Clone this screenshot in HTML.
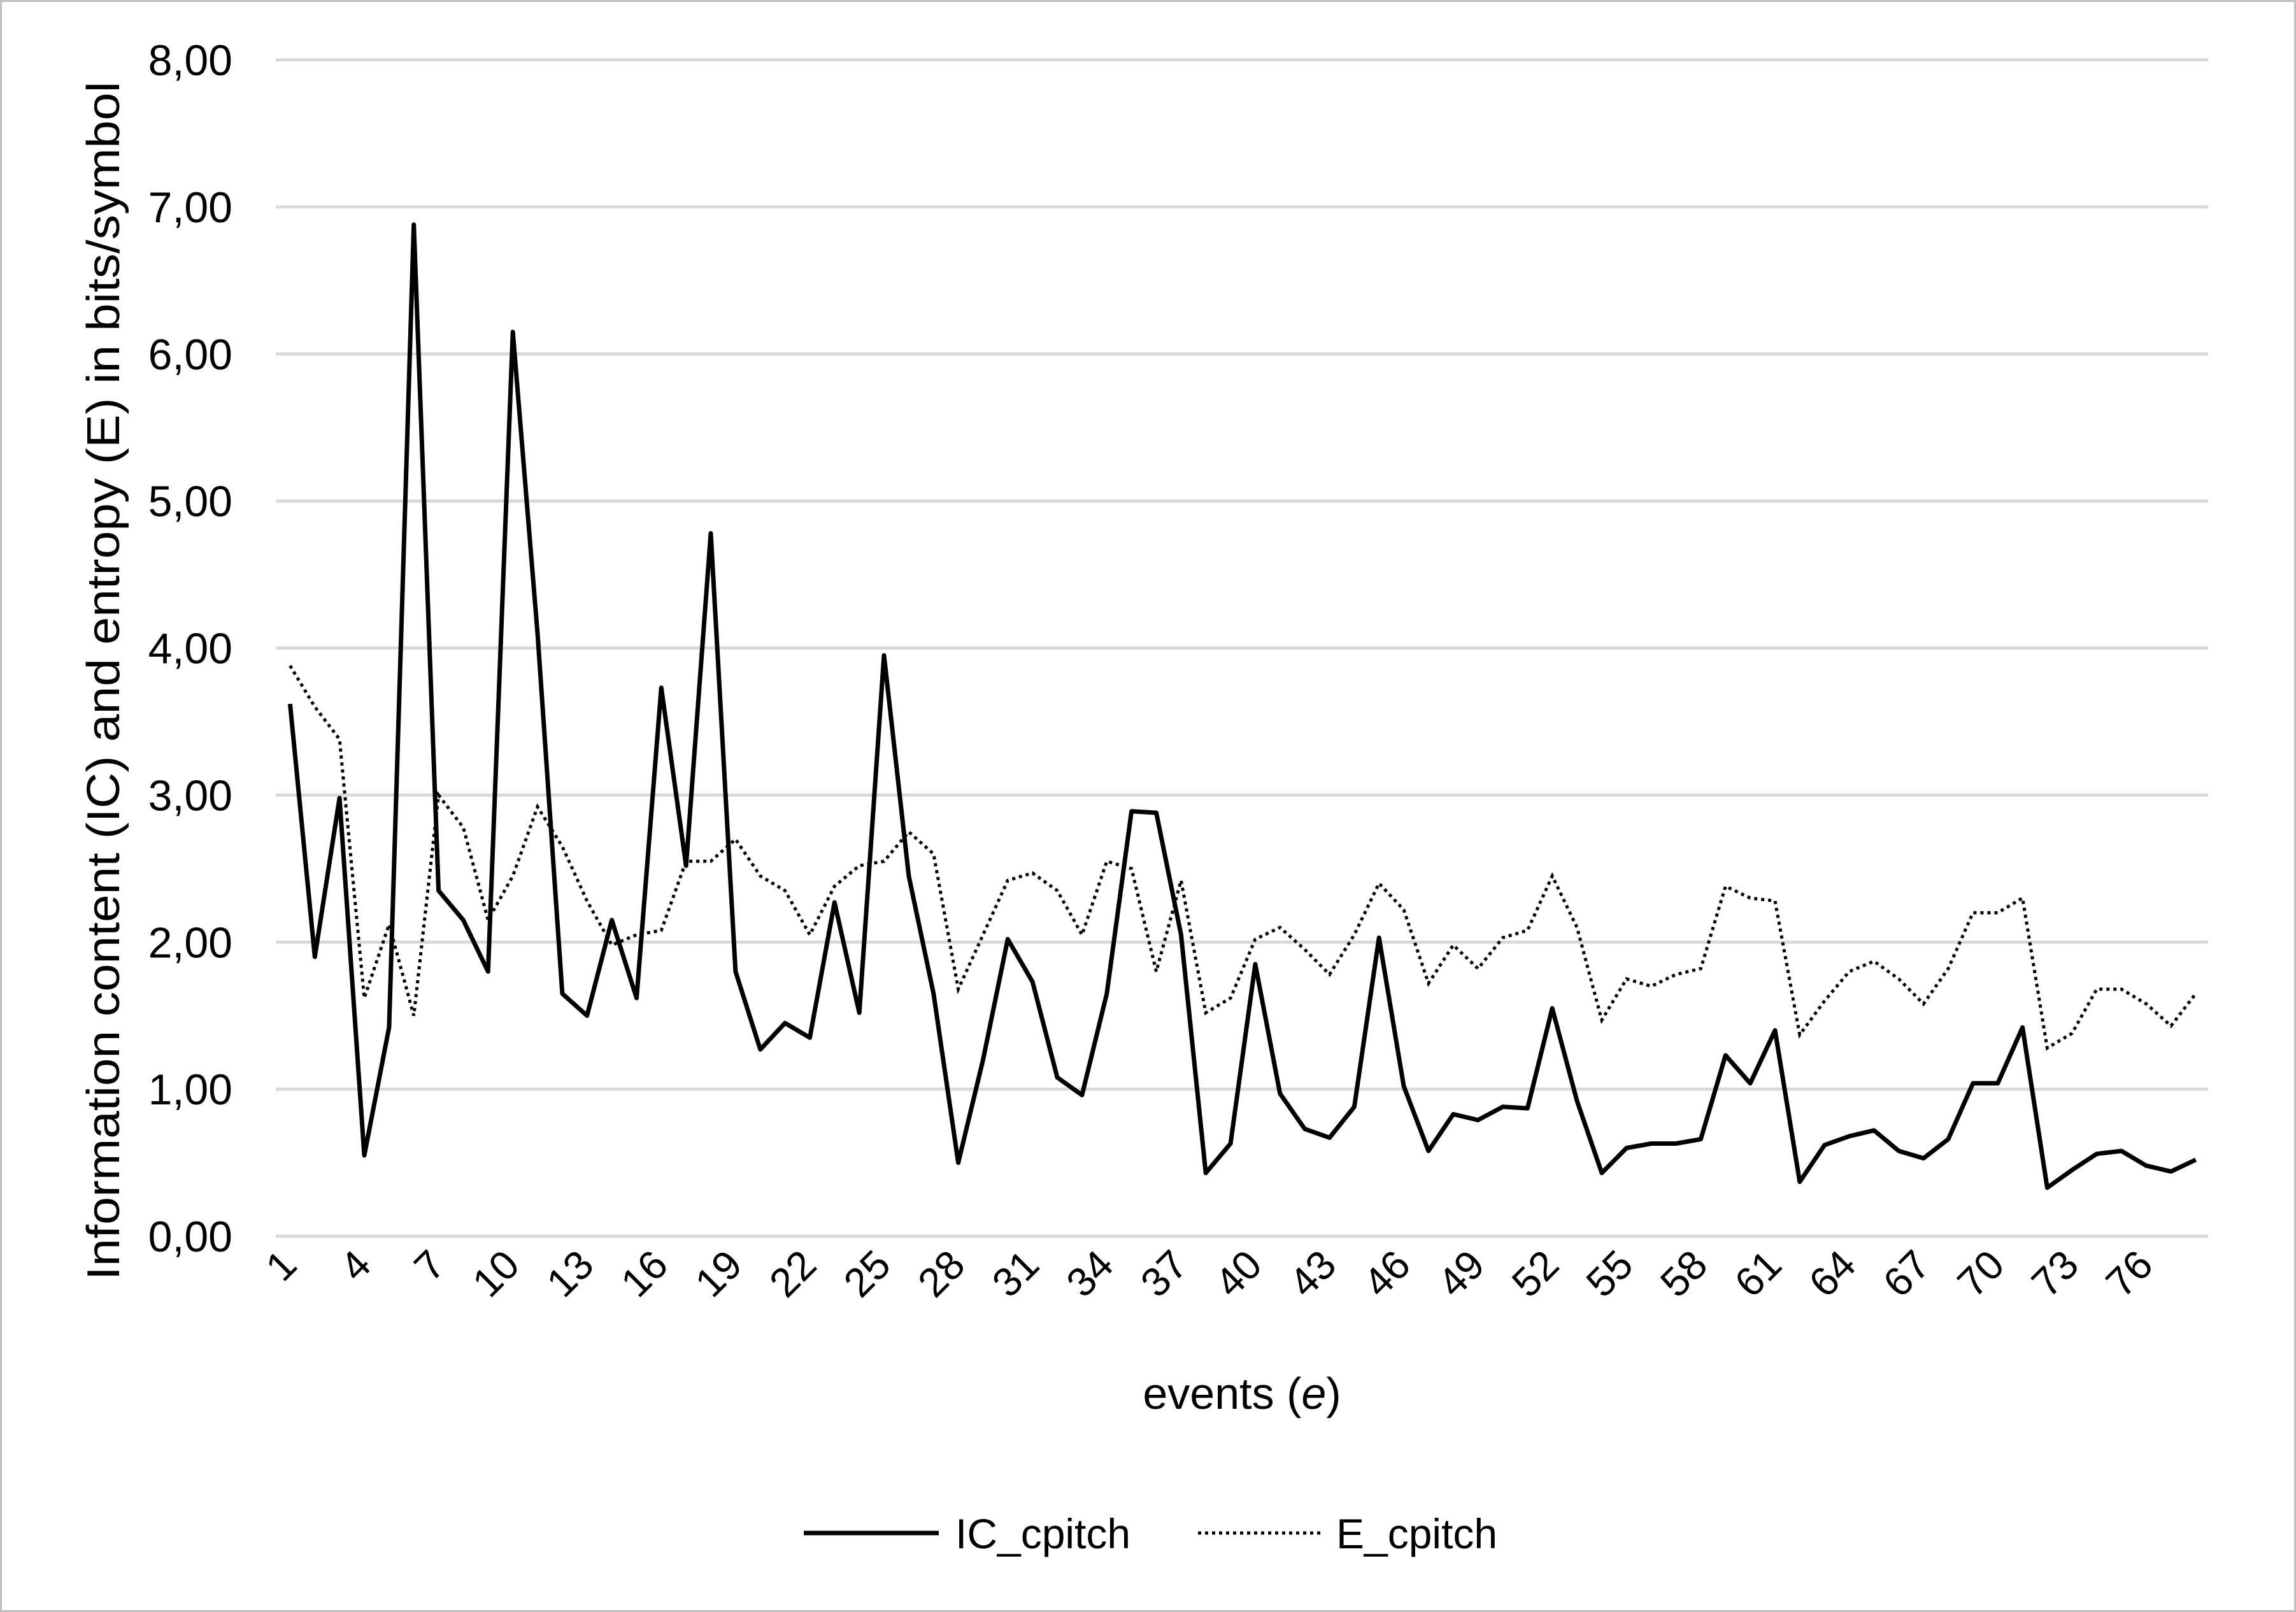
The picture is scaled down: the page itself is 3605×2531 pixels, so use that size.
<!DOCTYPE html>
<html><head><meta charset="utf-8"><style>
html,body{margin:0;padding:0;background:#fff}
svg{display:block}
text{font-family:"Liberation Sans",sans-serif;fill:#000}
</style></head><body>
<svg id="s" width="3605" height="2531" viewBox="0 0 3605 2531" xmlns="http://www.w3.org/2000/svg">
<rect x="1.5" y="1.5" width="3602" height="2528" fill="#fff" stroke="#bfbfbf" stroke-width="3"/>
<g id="grid"></g>
<g id="ylab"></g>
<g id="xlab"></g>
<polyline id="ic" fill="none" stroke="#000" stroke-width="7" stroke-linejoin="round"/>
<polyline id="en" fill="none" stroke="#000" stroke-width="5" stroke-dasharray="5,6"/>
<text x="187" y="1069" font-size="72" text-anchor="middle" textLength="1882" lengthAdjust="spacingAndGlyphs" transform="rotate(-90 187 1069)">Information content (IC)  and entropy (E)  in bits/symbol</text>
<text x="1950" y="2212" font-size="70" text-anchor="middle">events (<tspan font-style="italic">e</tspan>)</text>
<line x1="1262" y1="2407" x2="1474" y2="2407" stroke="#000" stroke-width="7"/>
<text x="1500" y="2431" font-size="66">IC_cpitch</text>
<line x1="1881" y1="2407" x2="2073" y2="2407" stroke="#000" stroke-width="5" stroke-dasharray="5,6"/>
<text x="2098" y="2431" font-size="66">E_cpitch</text>
</svg>
<script>
var IC=[3.62,1.90,2.98,0.55,1.42,6.88,2.35,2.15,1.80,6.15,4.1,1.65,1.50,2.15,1.62,3.73,2.52,4.78,1.80,1.27,1.45,1.35,2.27,1.52,3.95,2.45,1.65,0.50,1.20,2.02,1.73,1.08,0.96,1.65,2.89,2.88,2.05,0.43,0.63,1.85,0.97,0.73,0.67,0.88,2.03,1.02,0.58,0.83,0.79,0.88,0.87,1.55,0.92,0.43,0.60,0.63,0.63,0.66,1.23,1.04,1.40,0.37,0.62,0.68,0.72,0.58,0.53,0.66,1.04,1.04,1.42,0.33,0.45,0.56,0.58,0.48,0.44,0.52];
var EN=[3.88,3.6,3.38,1.62,2.12,1.50,3.0,2.78,2.15,2.45,2.92,2.65,2.28,1.98,2.05,2.08,2.55,2.55,2.7,2.45,2.35,2.05,2.38,2.52,2.55,2.75,2.6,1.68,2.05,2.42,2.47,2.35,2.05,2.55,2.5,1.80,2.42,1.52,1.62,2.02,2.10,1.95,1.78,2.05,2.40,2.22,1.72,1.98,1.82,2.03,2.08,2.45,2.1,1.47,1.75,1.70,1.78,1.82,2.38,2.30,2.28,1.37,1.60,1.80,1.87,1.75,1.58,1.82,2.20,2.20,2.30,1.28,1.38,1.68,1.68,1.58,1.43,1.65];
var L=436,R=3467,Y0=1941,Y8=94,n=78,step=(R-L)/n;
function X(i){return L+step*(i+0.5);}
function Y(v){return Y0-(Y0-Y8)*v/8;}
var ns="http://www.w3.org/2000/svg";
function el(t,a,p,txt){var e=document.createElementNS(ns,t);for(var k in a)e.setAttribute(k,a[k]);if(txt!=null)e.textContent=txt;document.getElementById(p).appendChild(e);}
for(var v=0;v<=8;v++){var y=Y(v);
el('line',{x1:433,x2:R,y1:y,y2:y,stroke:'#d9d9d9','stroke-width':5},'grid');
el('text',{x:365,y:y+24,'font-size':68,'text-anchor':'end'},'ylab',v+',00');}
for(var i=0;i<n;i+=3){var x=X(i)+14,y=1990;
el('text',{x:x,y:y,'font-size':64,'text-anchor':'end',transform:'rotate(-45 '+x+' '+y+')'},'xlab',String(i+1));}
document.getElementById('ic').setAttribute('points',IC.map(function(v,i){return X(i).toFixed(1)+','+Y(v).toFixed(1)}).join(' '));
document.getElementById('en').setAttribute('points',EN.map(function(v,i){return X(i).toFixed(1)+','+Y(v).toFixed(1)}).join(' '));
</script>
</body></html>
